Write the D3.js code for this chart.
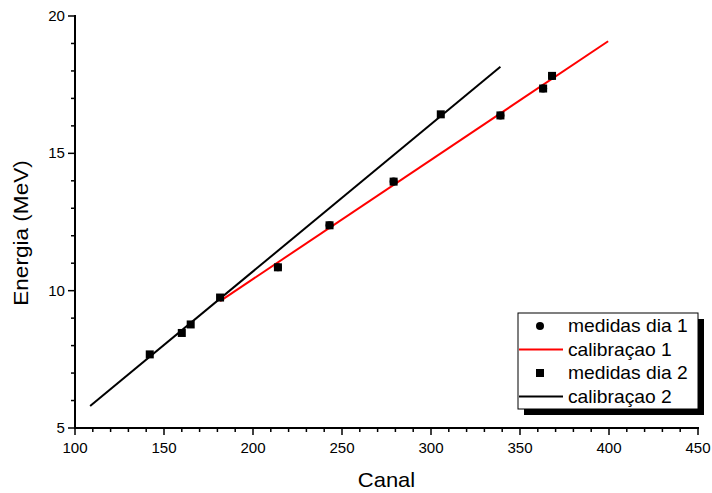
<!DOCTYPE html>
<html>
<head>
<meta charset="utf-8">
<script src="https://cdn.jsdelivr.net/npm/d3@7"></script>
<style>
  body { margin: 0; background: #fff; }
  svg { font-family: Arial, "Liberation Sans", sans-serif; }
</style>
</head>
<body>
<div id="chart"></div>
<script>
// measured points (canal, energia)
const dia1Canal = [214, 243, 279, 339, 363, 368];
const dia1Energia = [10.85, 12.38, 13.97, 16.38, 17.36, 17.82];
const dia2Canal = [142, 160, 165, 181.5, 305.5];
const dia2Energia = [7.68, 8.46, 8.77, 9.75, 16.42];

// calibration lines (endpoints)
const calib1Canal = [181.5, 399.5];
const calib1Energia = [9.62, 19.08];
const calib2Canal = [108.5, 339];
const calib2Energia = [5.8, 18.15];

const xTicks = [100, 150, 200, 250, 300, 350, 400, 450];
const yTicks = [5, 10, 15, 20];

const legendLabels = ['medidas dia 1', 'calibraçao 1', 'medidas dia 2', 'calibraçao 2'];

const width = 712, height = 493;
const margin = { left: 75, right: 14, top: 16, bottom: 65 };
const stretch = 1.1; // text in the original is a bit wider than Arial

const svg = d3.select('#chart').append('svg')
  .attr('width', width)
  .attr('height', height);

const x = d3.scaleLinear().domain([100, 450]).range([margin.left, width - margin.right]);
const y = d3.scaleLinear().domain([5, 20]).range([height - margin.bottom, margin.top]);

// minor ticks
const xMinor = d3.range(100, 451, 10).filter(v => v % 50 !== 0);
const yMinor = d3.range(5, 20.01, 1).filter(v => v % 5 !== 0);

const gx = svg.append('g').attr('transform', `translate(0,${y(5)})`);
gx.append('line').attr('x1', x(100) - 1).attr('x2', x(450) + 1)
  .attr('stroke', '#000').attr('stroke-width', 2);
gx.selectAll('.minor').data(xMinor).enter().append('line')
  .attr('x1', d => x(d)).attr('x2', d => x(d)).attr('y1', 0).attr('y2', 4)
  .attr('stroke', '#000').attr('stroke-width', 1.5);
gx.selectAll('.major').data(xTicks).enter().append('line')
  .attr('x1', d => x(d)).attr('x2', d => x(d)).attr('y1', 0).attr('y2', 7)
  .attr('stroke', '#000').attr('stroke-width', 1.5);
gx.selectAll('text').data(xTicks).enter().append('text')
  .attr('transform', d => `translate(${x(d)},25) scale(1.04,1)`)
  .attr('text-anchor', 'middle').attr('font-size', 14.5)
  .text(d => d);

const gy = svg.append('g').attr('transform', `translate(${x(100)},0)`);
gy.append('line').attr('y1', y(20) - 1).attr('y2', y(5) + 1)
  .attr('stroke', '#000').attr('stroke-width', 2);
gy.selectAll('.minor').data(yMinor).enter().append('line')
  .attr('y1', d => y(d)).attr('y2', d => y(d)).attr('x1', 0).attr('x2', -4)
  .attr('stroke', '#000').attr('stroke-width', 1.5);
gy.selectAll('.major').data(yTicks).enter().append('line')
  .attr('y1', d => y(d)).attr('y2', d => y(d)).attr('x1', 0).attr('x2', -7)
  .attr('stroke', '#000').attr('stroke-width', 1.5);
gy.selectAll('text').data(yTicks).enter().append('text')
  .attr('transform', d => `translate(-10,${y(d) + 5}) scale(1.04,1)`)
  .attr('text-anchor', 'end').attr('font-size', 14.5)
  .text(d => d);

// axis titles
svg.append('text')
  .attr('transform', `translate(${(x(100) + x(450)) / 2},487) scale(${stretch},1)`)
  .attr('text-anchor', 'middle').attr('font-size', 20)
  .text('Canal');
svg.append('text')
  .attr('transform', `translate(28,233) rotate(-90) scale(${stretch + 0.03},1)`)
  .attr('text-anchor', 'middle').attr('font-size', 20)
  .text('Energia (MeV)');

// lines
const line = d3.line().x(d => x(d[0])).y(d => y(d[1]));
svg.append('path')
  .datum(d3.zip(calib2Canal, calib2Energia))
  .attr('d', line).attr('fill', 'none')
  .attr('stroke', '#000').attr('stroke-width', 2);
svg.append('path')
  .datum(d3.zip(calib1Canal, calib1Energia))
  .attr('d', line).attr('fill', 'none')
  .attr('stroke', '#ff0000').attr('stroke-width', 2);

// points
svg.selectAll('.p1').data(d3.zip(dia1Canal, dia1Energia)).enter().append('circle')
  .attr('cx', d => x(d[0])).attr('cy', d => y(d[1])).attr('r', 4).attr('fill', '#000');
svg.selectAll('.p1s').data(d3.zip(dia1Canal, dia1Energia)).enter().append('rect')
  .attr('x', d => x(d[0]) - 4).attr('y', d => y(d[1]) - 4)
  .attr('width', 8).attr('height', 8).attr('fill', '#000');
svg.selectAll('.p2').data(d3.zip(dia2Canal, dia2Energia)).enter().append('rect')
  .attr('x', d => x(d[0]) - 4).attr('y', d => y(d[1]) - 4)
  .attr('width', 8).attr('height', 8).attr('fill', '#000');

// legend
const lg = svg.append('g').attr('transform', 'translate(518,313)');
const lw = 180, lh = 96;
lg.append('rect').attr('x', 6).attr('y', 6).attr('width', lw).attr('height', lh).attr('fill', '#000');
lg.append('rect').attr('x', 0).attr('y', 0).attr('width', lw).attr('height', lh)
  .attr('fill', '#fff').attr('stroke', '#000').attr('stroke-width', 1);

const rowY = i => 13 + i * 23.5;
legendLabels.forEach((lab, i) => {
  const cy = rowY(i);
  if (i === 0) {
    lg.append('circle').attr('cx', 22).attr('cy', cy).attr('r', 4).attr('fill', '#000');
  } else if (i === 2) {
    lg.append('rect').attr('x', 18).attr('y', cy - 4).attr('width', 8).attr('height', 8).attr('fill', '#000');
  } else {
    lg.append('line').attr('x1', 1).attr('x2', 45).attr('y1', cy).attr('y2', cy)
      .attr('stroke', i === 1 ? '#ff0000' : '#000').attr('stroke-width', 2);
  }
  lg.append('text')
    .attr('transform', `translate(50,${cy + 6}) scale(${stretch},1)`)
    .attr('font-size', 17.5).text(lab);
});
</script>
</body>
</html>
